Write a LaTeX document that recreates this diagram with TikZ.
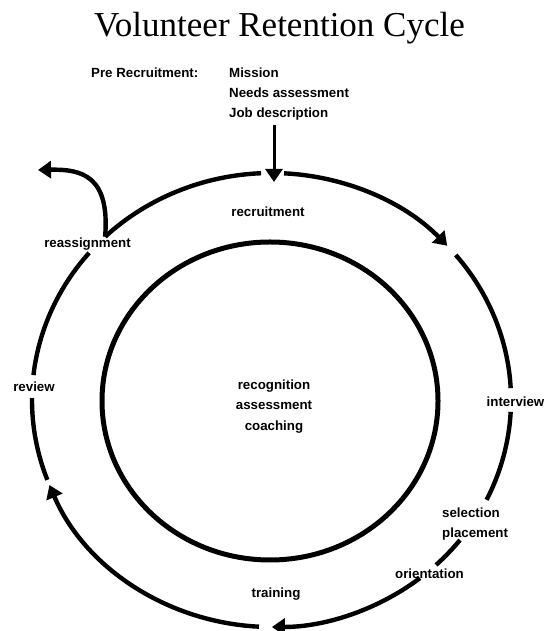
\documentclass[tikz,border=0pt]{standalone}
\usepackage{fontspec}
\setmainfont{Liberation Serif}
\newfontfamily\labfont{Liberation Sans}
\usetikzlibrary{arrows.meta}
\tikzset{
  ring/.style={line width=4.4pt},
  inring/.style={line width=5pt},
  tipped/.style={-{Triangle[width=17pt,length=13pt]}},
  oarc/.style={x radius=239.5, y radius=227},
  lab/.style={font=\labfont\bfseries\fontsize{13.3}{20.5}\selectfont, inner sep=0pt},
}
\newcommand\ringpt[2]{\path (O) ++(#2:239.5 and 227) coordinate (#1);}
\begin{document}
\begin{tikzpicture}[x=1pt,y=1pt]
\useasboundingbox (0,0) rectangle (552,631);
\coordinate (O) at (271.5,231);
\coordinate (I) at (270,230);
% title and pre-recruitment text
\node[font=\fontsize{35}{40}\selectfont, anchor=base, inner sep=0pt] (title) at (279.5,594) {Volunteer Retention Cycle};
\node[lab, anchor=base west] (pre) at (91,553) {Pre Recruitment:};
\node[lab, anchor=base west] (mis) at (229,553) {Mission};
\node[lab, anchor=base west] (nee) at (229,533) {Needs assessment};
\node[lab, anchor=base west] (job) at (229,513) {Job description};
% labels
\node[lab, anchor=base] (rec) at (268,414) {recruitment};
\node[lab, anchor=base] (rea) at (87.5,383) {reassignment};
\node[lab, anchor=base] (rev) at (34,239) {review};
\node[lab, anchor=base] (int) at (515.5,224) {interview};
\node[lab, align=center] (core) at (274,224.5) {recognition\\assessment\\coaching};
\node[lab, anchor=base west] (sel) at (442,113) {selection};
\node[lab, anchor=base west] (pla) at (442,93) {placement};
\node[lab, anchor=base] (ori) at (429.5,52) {orientation};
\node[lab, anchor=base] (tra) at (276,33) {training};
% inner ring
\draw[inring] (I) ellipse [x radius=168, y radius=159];
% outer ring points
\ringpt{a0}{87}
\ringpt{b0}{39.7}
\ringpt{b2}{-3}
\ringpt{c0}{-38.1}
\ringpt{d0}{-51.7}
\ringpt{e0}{-93}
\ringpt{f0}{-159.4}
\ringpt{g0}{173.7}
\ringpt{h0}{134}
% outer ring segments
\draw[ring, tipped] (a0) arc[oarc, start angle=87, end angle=42.8];
\draw[ring] (b0) arc[oarc, start angle=39.7, end angle=3];
\draw[ring] (b2) arc[oarc, start angle=-3, end angle=-26.1];
\draw[ring] (c0) arc[oarc, start angle=-38.1, end angle=-46.6];
\draw[ring, tipped] (d0) arc[oarc, start angle=-51.7, end angle=-89.9];
\draw[ring, tipped] (e0) arc[oarc, start angle=-93, end angle=-158];
\draw[ring] (f0) arc[oarc, start angle=-159.4, end angle=-180.5];
\draw[ring] (g0) arc[oarc, start angle=173.7, end angle=139.6];
\draw[ring] (h0) arc[oarc, start angle=134, end angle=92.5];
% branch arrow out of the cycle
\coordinate (btip) at (38,461);
\draw[ring, tipped] (h0) .. controls (110,455) and (82,462) .. (btip);
% incoming arrow
\coordinate (dn0) at (274,506);
\coordinate (dn1) at (274,449);
\draw[line width=3pt, tipped] (dn0) -- (dn1);
\end{tikzpicture}
\end{document}
